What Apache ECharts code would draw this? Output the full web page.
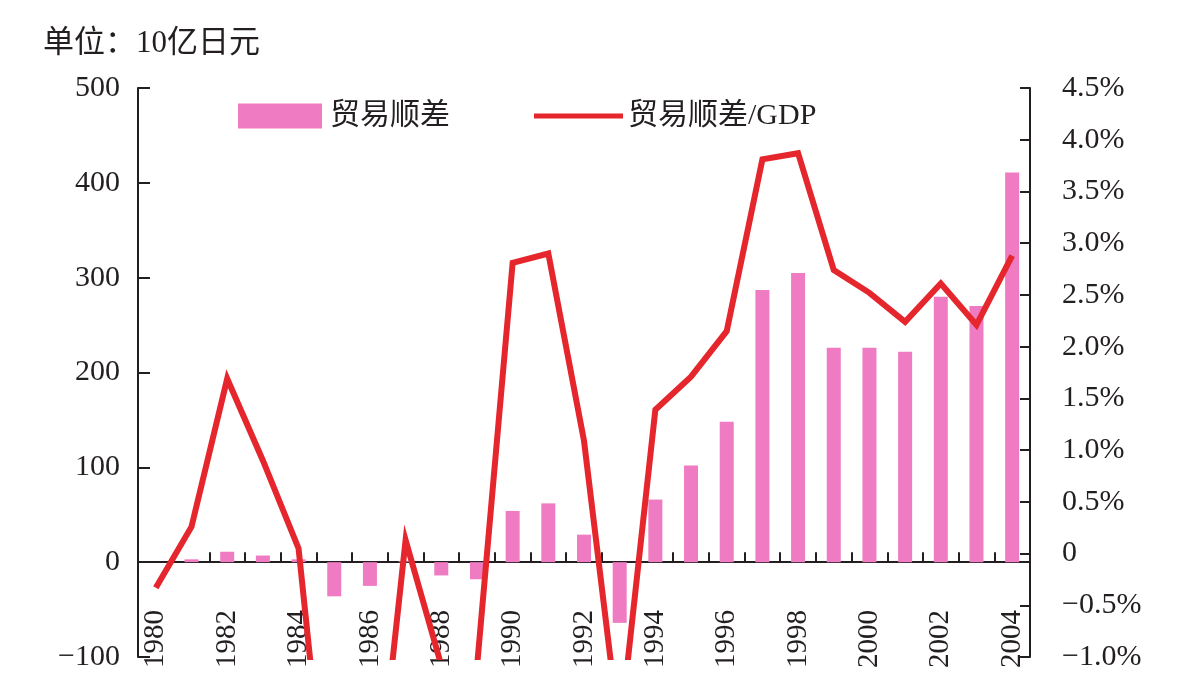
<!DOCTYPE html>
<html>
<head>
<meta charset="utf-8">
<script src="https://cdn.jsdelivr.net/npm/echarts@6/dist/echarts.min.js"></script>
<style>
	html, body { margin: 0; padding: 0; background: #fff; }
	#myChart { width: 1194px; height: 687px; }
</style>
</head>
<body>
<div id="myChart"></div>
<script>
	// 年份
	var years = ['1980', '1981', '1982', '1983', '1984', '1985', '1986', '1987', '1988', '1989',
		'1990', '1991', '1992', '1993', '1994', '1995', '1996', '1997', '1998', '1999',
		'2000', '2001', '2002', '2003', '2004'];
	// 贸易顺差 (10亿日元)
	var surplus = [0, 3, 11, 7, 3, -36, -25, 1, -14, -18,
		54, 62, 29, -64, 66, 102, 148, 287, 305, 226,
		226, 222, 280, 270, 411];
	// 贸易顺差/GDP (%)
	var surplusGdp = [-0.33, 0.26, 1.69, 0.9, 0.05, -3.25, -3.05, 0.13, -1.08, -1.1,
		2.81, 2.9, 1.09, -1.75, 1.39, 1.71, 2.15, 3.81, 3.87, 2.74,
		2.52, 2.24, 2.61, 2.21, 2.88];

	var serif = '"Liberation Serif", "Noto Sans CJK SC", serif';
	var ink = '#231f20';

	function minus(s) {
		return String(s).replace('-', '\u2212');
	}

	var myChart = echarts.init(document.getElementById('myChart'));

	var option = {
		animation: false,
		backgroundColor: '#fff',
		title: {
			text: '单位：10亿日元',
			left: 38,
			top: 23,
			textStyle: {
				fontFamily: serif,
				fontWeight: 'normal',
				fontSize: 31,
				color: ink
			}
		},
		legend: [{
			data: [{ name: '贸易顺差', icon: 'rect' }],
			left: 233,
			top: 96,
			itemWidth: 84,
			itemHeight: 25,
			itemGap: 0,
			selectedMode: false,
			textStyle: { fontFamily: serif, fontSize: 30, color: ink, padding: [0, 0, 0, 3] }
		}, {
			data: [{ name: '贸易顺差/GDP', icon: 'rect' }],
			left: 529,
			top: 96,
			itemWidth: 89,
			itemHeight: 5,
			itemGap: 0,
			selectedMode: false,
			textStyle: { fontFamily: serif, fontSize: 30, color: ink, padding: [0, 0, 0, 0] }
		}],
		grid: {
			left: 138,
			right: 164,
			top: 88,
			bottom: 30,
			containLabel: false
		},
		xAxis: [{
			// 零线上的轴（刻度）
			type: 'category',
			data: years,
			boundaryGap: true,
			axisLine: {
				onZero: true,
				lineStyle: { color: ink, width: 2 }
			},
			axisTick: {
				show: true,
				inside: true,
				length: 10,
				interval: 0,
				lineStyle: { color: ink, width: 2 }
			},
			axisLabel: { show: false },
			splitLine: { show: false }
		}, {
			// 底部年份标签
			type: 'category',
			data: years,
			position: 'bottom',
			boundaryGap: true,
			axisLine: { show: false, onZero: false },
			axisTick: { show: false },
			axisLabel: {
				interval: 1,
				rotate: 90,
				margin: -47,
				fontFamily: serif,
				fontSize: 29,
				color: ink
			},
			splitLine: { show: false }
		}],
		yAxis: [{
			type: 'value',
			min: -100,
			max: 500,
			interval: 100,
			axisLine: { show: true, lineStyle: { color: ink, width: 2 } },
			axisTick: { show: true, inside: true, length: 12, lineStyle: { color: ink, width: 2 } },
			axisLabel: {
				margin: 18,
				fontFamily: serif,
				fontSize: 30,
				color: ink,
				formatter: function(v) { return minus(v); }
			},
			splitLine: { show: false }
		}, {
			type: 'value',
			min: -1,
			max: 4.5,
			interval: 0.5,
			position: 'right',
			axisLine: { show: true, lineStyle: { color: ink, width: 2 } },
			axisTick: { show: true, inside: true, length: 10, lineStyle: { color: ink, width: 2 } },
			axisLabel: {
				margin: 32,
				fontFamily: serif,
				fontSize: 30,
				color: ink,
				formatter: function(v) {
					if (Math.abs(v) < 1e-9) return '0';
					return minus(v.toFixed(1)) + '%';
				}
			},
			splitLine: { show: false }
		}],
		series: [{
			name: '贸易顺差',
			type: 'bar',
			yAxisIndex: 0,
			barWidth: 14,
			itemStyle: { color: '#ef7bc2' },
			data: surplus
		}, {
			name: '贸易顺差/GDP',
			type: 'line',
			yAxisIndex: 1,
			showSymbol: false,
			symbol: 'none',
			clip: true,
			lineStyle: { color: '#e5262c', width: 6, join: 'miter' },
			itemStyle: { color: '#e5262c' },
			data: surplusGdp
		}]
	};

	myChart.setOption(option);
</script>
</body>
</html>
